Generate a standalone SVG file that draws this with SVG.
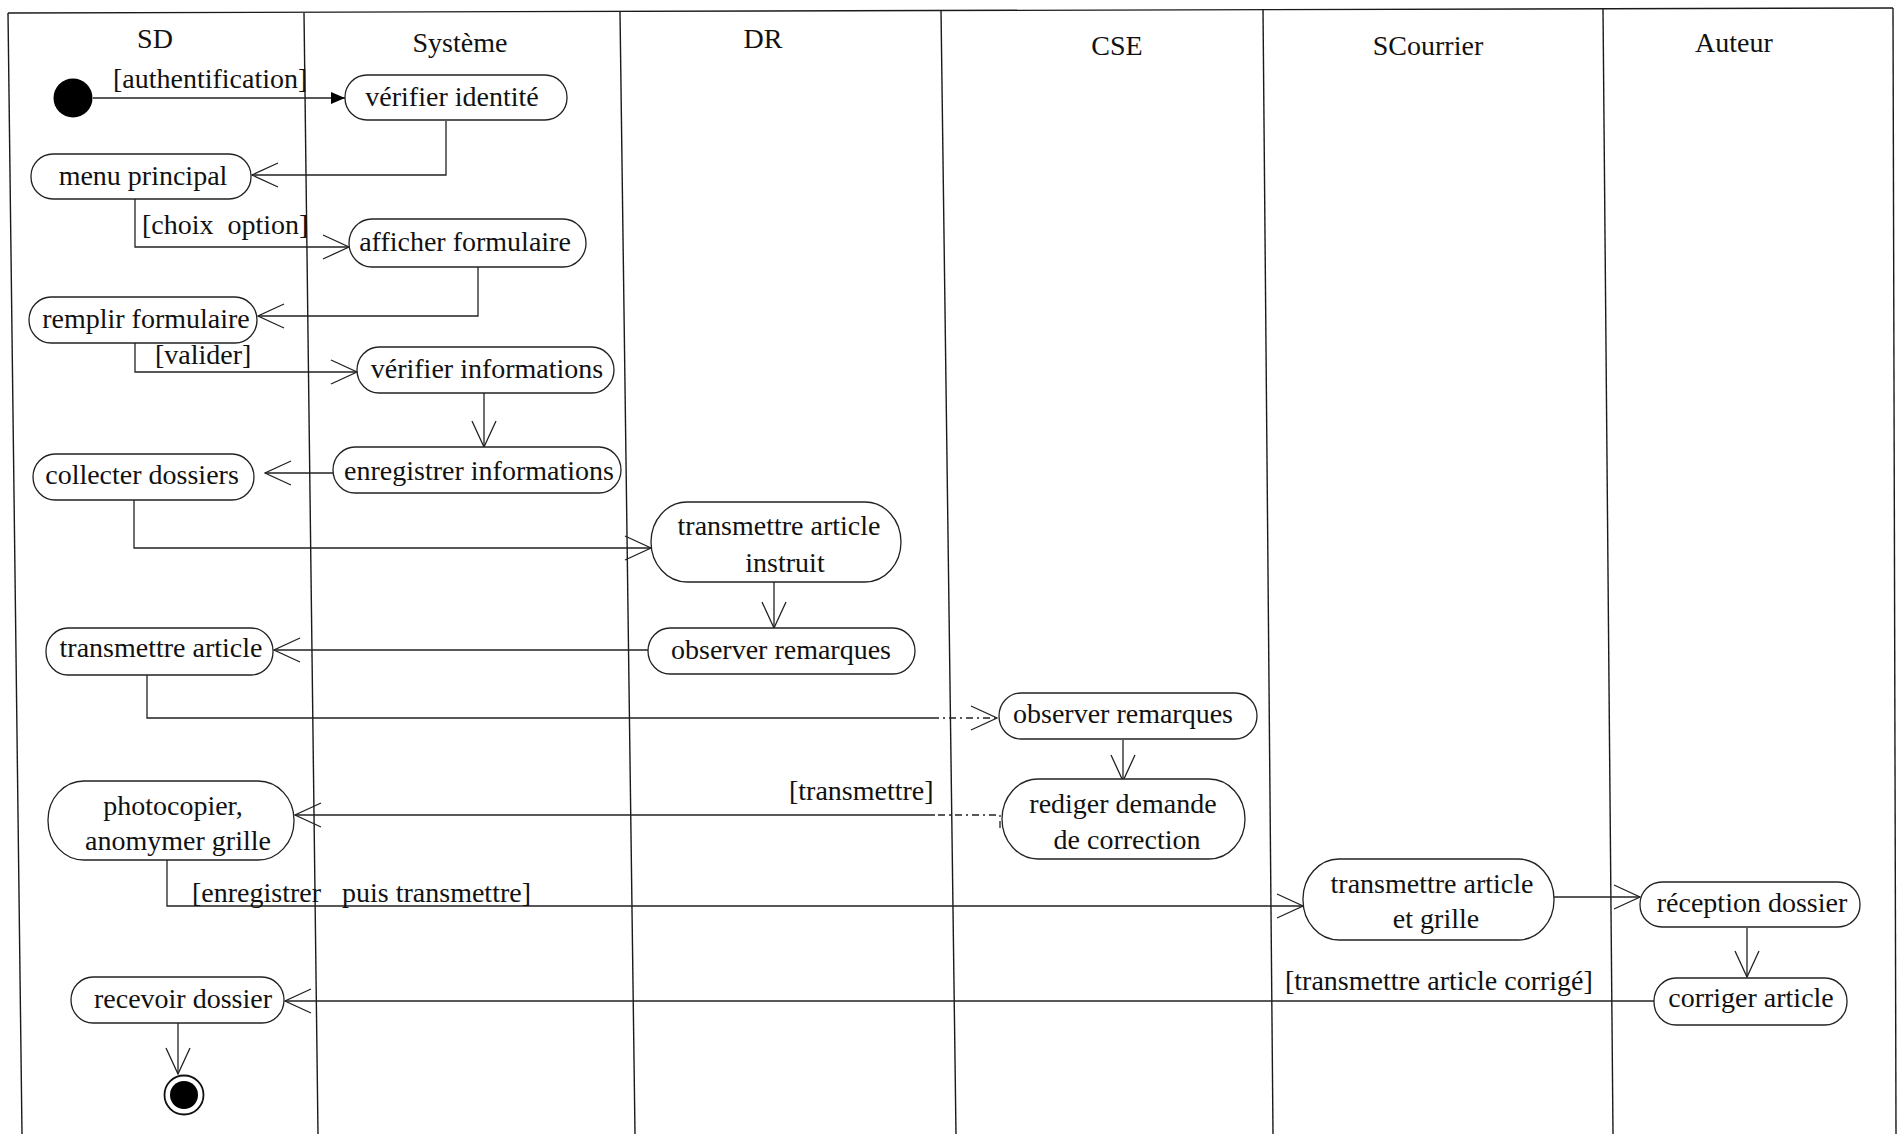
<svg xmlns="http://www.w3.org/2000/svg" width="1898" height="1134" viewBox="0 0 1898 1134">
<style>
  .lane { stroke:#1a1a1a; stroke-width:1.4; fill:none }
  .box { fill:#fff; stroke:#222; stroke-width:1.3 }
  .c { fill:none; stroke:#222; stroke-width:1.3 }
  .dash { stroke-dasharray:7 4 2 4 }
  text { font-family:"Liberation Serif","Times New Roman",serif; font-size:28px; fill:#111 }
  .m { text-anchor:middle }
</style>
<defs>
  <marker id="open" markerUnits="userSpaceOnUse" viewBox="0 0 28 28" refX="27" refY="14" markerWidth="28" markerHeight="28" orient="auto">
    <path d="M1,2 L27,14 L1,26" fill="none" stroke="#222" stroke-width="1.3"/>
  </marker>
  <marker id="solid" markerUnits="userSpaceOnUse" viewBox="0 0 14 12" refX="14" refY="6" markerWidth="14" markerHeight="12" orient="auto">
    <path d="M0,0 L14,6 L0,12 Z" fill="#000"/>
  </marker>
</defs>
<rect width="1898" height="1134" fill="#fff"/>

<g id="lanes">
  <line class="lane" x1="8" y1="13" x2="1893" y2="8"/>
  <line class="lane" x1="8" y1="13" x2="22" y2="1134"/>
  <line class="lane" x1="304" y1="13" x2="318" y2="1134"/>
  <line class="lane" x1="620" y1="12" x2="635" y2="1134"/>
  <line class="lane" x1="941" y1="10" x2="956" y2="1134"/>
  <line class="lane" x1="1263" y1="9" x2="1273" y2="1134"/>
  <line class="lane" x1="1603" y1="9" x2="1613" y2="1134"/>
  <line class="lane" x1="1893" y1="8" x2="1896" y2="1134"/>
  <text class="m" x="155" y="48">SD</text>
  <text class="m" x="460" y="52">Système</text>
  <text class="m" x="763" y="48">DR</text>
  <text class="m" x="1117" y="55">CSE</text>
  <text class="m" x="1428" y="55">SCourrier</text>
  <text class="m" x="1734" y="52">Auteur</text>
</g>

<g id="connectors">
  <path class="c" d="M93,98 H345" marker-end="url(#solid)"/>
  <text x="113" y="88">[authentification]</text>
  <path class="c" d="M446,121 V175 H252" marker-end="url(#open)"/>
  <path class="c" d="M135,199 V247 H349" marker-end="url(#open)"/>
  <text x="142" y="234" xml:space="preserve">[choix  option]</text>
  <path class="c" d="M478,267 V316 H258" marker-end="url(#open)"/>
  <path class="c" d="M135,343 V372 H357" marker-end="url(#open)"/>
  <text x="155" y="364">[valider]</text>
  <path class="c" d="M484,393 V447" marker-end="url(#open)"/>
  <path class="c" d="M333,473 H265" marker-end="url(#open)"/>
  <path class="c" d="M134,500 V548 H651" marker-end="url(#open)"/>
  <path class="c" d="M774,582 V628" marker-end="url(#open)"/>
  <path class="c" d="M648,650 H274" marker-end="url(#open)"/>
  <path class="c" d="M147,675 V718 H932"/>
  <path class="c dash" d="M932,718 H997" marker-end="url(#open)"/>
  <path class="c" d="M1123,740 V781" marker-end="url(#open)"/>
  <path class="c dash" d="M1000,828 V815 H935"/>
  <path class="c" d="M935,815 H295" marker-end="url(#open)"/>
  <text x="789" y="800">[transmettre]</text>
  <path class="c" d="M167,860 V906 H1303" marker-end="url(#open)"/>
  <text x="192" y="902" xml:space="preserve">[enregistrer   puis transmettre]</text>
  <path class="c" d="M1554,897 H1640" marker-end="url(#open)"/>
  <path class="c" d="M1747,928 V977" marker-end="url(#open)"/>
  <path class="c" d="M1654,1001 H285" marker-end="url(#open)"/>
  <text x="1285" y="990">[transmettre article corrigé]</text>
  <path class="c" d="M178,1023 V1074" marker-end="url(#open)"/>
</g>

<g id="start"><circle cx="73" cy="98" r="19.5" fill="#000"/></g>

<g id="verifier-identite">
  <rect class="box" x="345" y="75" width="222" height="45" rx="22" ry="22"/>
  <text class="m" x="452" y="106">vérifier identité</text>
</g>
<g id="menu-principal">
  <rect class="box" x="31" y="154" width="220" height="45" rx="22" ry="22"/>
  <text class="m" x="143" y="185">menu principal</text>
</g>
<g id="afficher-formulaire">
  <rect class="box" x="349" y="219" width="237" height="48" rx="23" ry="24"/>
  <text class="m" x="465" y="251">afficher formulaire</text>
</g>
<g id="remplir-formulaire">
  <rect class="box" x="29" y="297" width="228" height="46" rx="22" ry="23"/>
  <text class="m" x="146" y="328">remplir formulaire</text>
</g>
<g id="verifier-informations">
  <rect class="box" x="357" y="347" width="257" height="46" rx="22" ry="23"/>
  <text class="m" x="487" y="378">vérifier informations</text>
</g>
<g id="enregistrer-informations">
  <rect class="box" x="333" y="447" width="288" height="46" rx="22" ry="23"/>
  <text class="m" x="479" y="480">enregistrer informations</text>
</g>
<g id="collecter-dossiers">
  <rect class="box" x="33" y="454" width="221" height="46" rx="22" ry="23"/>
  <text class="m" x="142" y="484">collecter dossiers</text>
</g>
<g id="transmettre-article-instruit">
  <rect class="box" x="651" y="502" width="250" height="80" rx="36" ry="40"/>
  <text class="m" x="779" y="535">transmettre article</text>
  <text class="m" x="785" y="572">instruit</text>
</g>
<g id="observer-remarques-dr">
  <rect class="box" x="648" y="628" width="267" height="46" rx="22" ry="23"/>
  <text class="m" x="781" y="659">observer remarques</text>
</g>
<g id="transmettre-article">
  <rect class="box" x="46" y="628" width="227" height="47" rx="22" ry="23"/>
  <text class="m" x="161" y="657">transmettre article</text>
</g>
<g id="observer-remarques-cse">
  <rect class="box" x="999" y="693" width="258" height="46" rx="22" ry="23"/>
  <text class="m" x="1123" y="723">observer remarques</text>
</g>
<g id="rediger-demande">
  <rect class="box" x="1002" y="779" width="243" height="80" rx="36" ry="40"/>
  <text class="m" x="1123" y="813">rediger demande</text>
  <text class="m" x="1127" y="849">de correction</text>
</g>
<g id="photocopier">
  <rect class="box" x="48" y="781" width="246" height="79" rx="36" ry="39"/>
  <text class="m" x="173" y="815">photocopier,</text>
  <text class="m" x="178" y="850">anomymer grille</text>
</g>
<g id="transmettre-article-grille">
  <rect class="box" x="1303" y="859" width="251" height="81" rx="36" ry="40"/>
  <text class="m" x="1432" y="893">transmettre article</text>
  <text class="m" x="1436" y="928">et grille</text>
</g>
<g id="reception-dossier">
  <rect class="box" x="1640" y="882" width="220" height="45" rx="22" ry="22"/>
  <text class="m" x="1752" y="912">réception dossier</text>
</g>
<g id="corriger-article">
  <rect class="box" x="1654" y="978" width="193" height="47" rx="22" ry="23"/>
  <text class="m" x="1751" y="1007">corriger article</text>
</g>
<g id="recevoir-dossier">
  <rect class="box" x="71" y="977" width="213" height="46" rx="22" ry="23"/>
  <text class="m" x="183" y="1008">recevoir dossier</text>
</g>
<g id="end">
  <circle cx="184" cy="1095" r="19.5" fill="#fff" stroke="#111" stroke-width="1.8"/>
  <circle cx="184" cy="1095" r="14" fill="#000"/>
</g>
</svg>
